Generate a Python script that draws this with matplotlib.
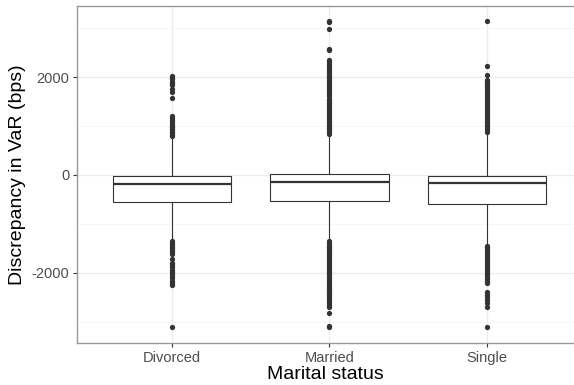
import matplotlib
matplotlib.use('Agg')
from matplotlib import pyplot as plt
from matplotlib.ticker import MultipleLocator

plt.rcParams['font.family'] = ['Liberation Sans', 'DejaVu Sans']

# categories and box statistics (bps)
categories = ['Divorced', 'Married', 'Single']
q1 = [-550, -530, -590]
med = [-180, -140, -160]
q3 = [-15, 15, -15]
whisk_lo = [-1330, -1330, -1430]
whisk_hi = [780, 815, 855]

# outliers
out_divorced = [790, 820, 850, 880, 910, 940, 980, 1010, 1050, 1090, 1130, 1170, 1210,
                1570, 1700, 1760, 1830, 1870, 1900, 1950, 1990, 2030,
                -1340, -1380, -1420, -1460, -1500, -1540, -1580, -1620, -1710, -1790,
                -1830, -1870, -1930, -1980, -2020, -2070, -2110, -2160, -2200, -2250, -3110]
out_married = [830, 870, 910, 950, 990, 1030, 1070, 1110, 1150, 1190, 1230, 1270, 1310,
               1350, 1390, 1430, 1470, 1510, 1550, 1620, 1660, 1700, 1740, 1780, 1820,
               1860, 1900, 1940, 1980, 2020, 2060, 2100, 2140, 2180, 2220, 2260, 2300,
               2340, 2550, 2570, 2980, 3120, 3150,
               -1340, -1380, -1420, -1460, -1500, -1540, -1580, -1620, -1660, -1700,
               -1740, -1780, -1820, -1860, -1900, -1940, -1980, -2020, -2060, -2100,
               -2140, -2180, -2220, -2260, -2300, -2340, -2380, -2420, -2460, -2500,
               -2540, -2580, -2620, -2660, -2700, -2820, -3090, -3110]
out_single = [870, 910, 950, 990, 1030, 1070, 1110, 1150, 1190, 1230, 1270, 1310, 1350,
              1390, 1430, 1470, 1510, 1550, 1590, 1630, 1670, 1710, 1750, 1790, 1830,
              1870, 1910, 1940, 2040, 2220, 3140,
              -1440, -1480, -1520, -1560, -1600, -1640, -1680, -1720, -1760, -1800,
              -1840, -1880, -1920, -1960, -2000, -2040, -2080, -2120, -2160, -2200,
              -2390, -2440, -2500, -2560, -2610, -2700, -3110]
outliers = [out_divorced, out_married, out_single]

stats = []
for i in range(len(categories)):
    stats.append({'label': categories[i], 'q1': q1[i], 'med': med[i], 'q3': q3[i],
                  'whislo': whisk_lo[i], 'whishi': whisk_hi[i], 'fliers': outliers[i]})

fig = plt.figure(figsize=(5.74, 3.85), dpi=100)
ax = fig.add_axes([77 / 574, 42 / 385, 497 / 574, 337 / 385])

line = dict(color='#333333', linewidth=0.8)
ax.bxp(stats, positions=[1, 2, 3], widths=0.75, patch_artist=True,
       boxprops=dict(facecolor='white', edgecolor='#333333', linewidth=0.8),
       medianprops=dict(color='#333333', linewidth=1.6),
       whiskerprops=line, capprops=dict(linewidth=0),
       flierprops=dict(marker='o', markerfacecolor='#333333', markeredgewidth=0,
                       markersize=3.8, linestyle='none'),
       zorder=3)

ax.set_xlim(0.4, 3.55)
ax.set_ylim(-3430, 3450)
ax.yaxis.set_major_locator(MultipleLocator(2000))
ax.yaxis.set_minor_locator(MultipleLocator(1000))
ax.grid(True, which='major', color='#EBEBEB', linewidth=0.9, zorder=0)
ax.grid(True, which='minor', axis='y', color='#F5F5F5', linewidth=0.6, zorder=0)
ax.set_axisbelow(True)
ax.tick_params(which='minor', length=0)
ax.tick_params(which='major', length=3, color='#333333', labelsize=10.5,
               labelcolor='#4D4D4D', width=0.8, pad=2.5)
ax.set_yticks([-2000, 0, 2000])
ax.set_yticklabels(['-2000', '0', '2000'])

for s in ax.spines.values():
    s.set_color('#999999')
    s.set_linewidth(1.0)
ax.spines['right'].set_visible(False)

ax.set_xlabel('Marital status', fontsize=14, labelpad=1)
ax.set_ylabel('Discrepancy in VaR (bps)', fontsize=14, labelpad=4)

fig.savefig('out.png', dpi=100)
